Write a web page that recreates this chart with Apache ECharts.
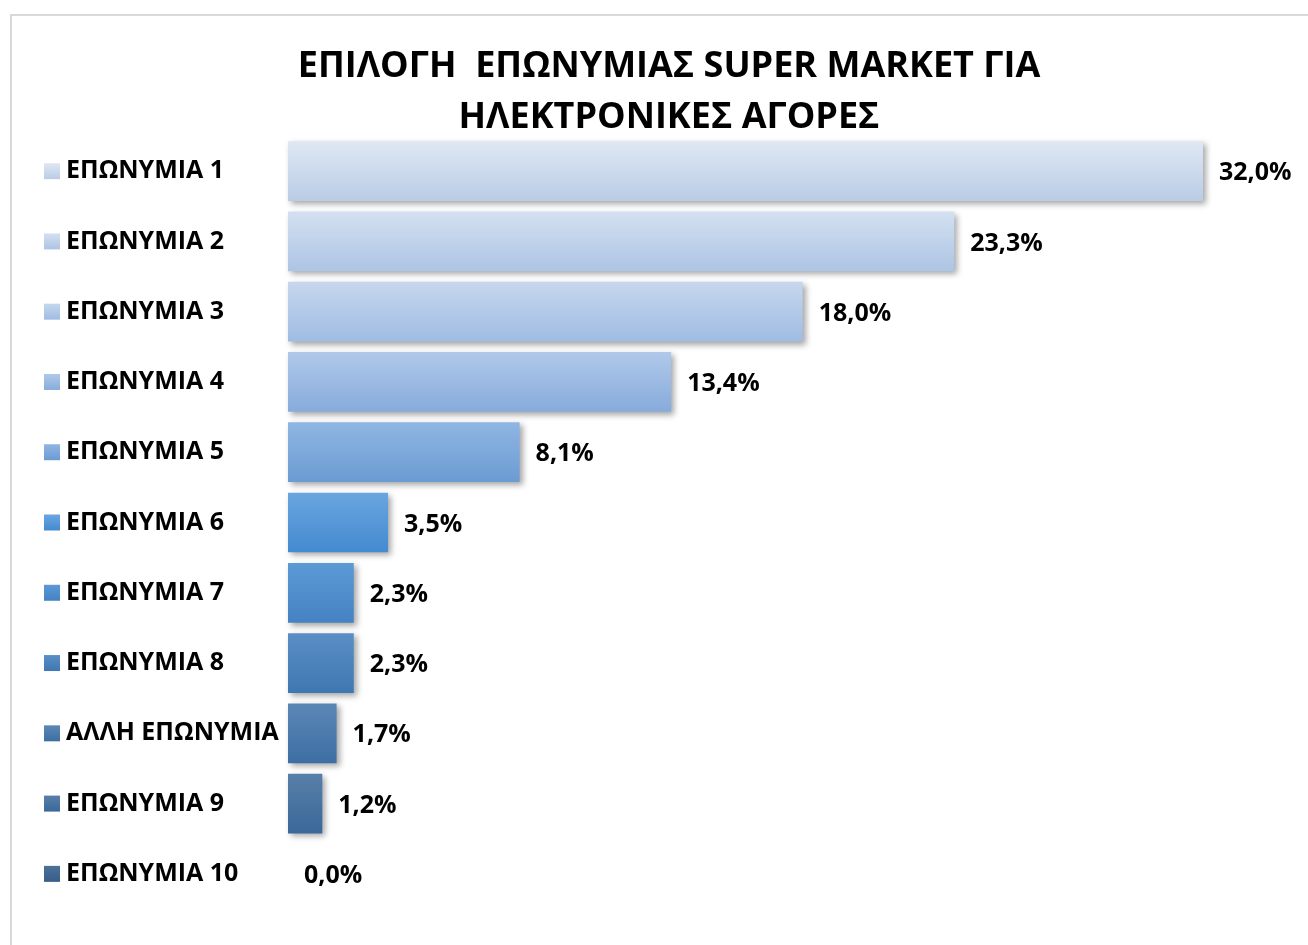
<!DOCTYPE html>
<html>
<head>
<meta charset="utf-8">
<script src="https://cdn.jsdelivr.net/npm/echarts@6/dist/echarts.min.js"></script>
<style>
	html, body { margin: 0; padding: 0; background: #fff; }
	#chart { width: 1308px; height: 945px; }
</style>
</head>
<body>
<div id="chart"></div>
<script>
	// categories, top to bottom
	var categories = ['ΕΠΩΝΥΜΙΑ 1', 'ΕΠΩΝΥΜΙΑ 2', 'ΕΠΩΝΥΜΙΑ 3', 'ΕΠΩΝΥΜΙΑ 4', 'ΕΠΩΝΥΜΙΑ 5',
		'ΕΠΩΝΥΜΙΑ 6', 'ΕΠΩΝΥΜΙΑ 7', 'ΕΠΩΝΥΜΙΑ 8', 'ΑΛΛΗ ΕΠΩΝΥΜΙΑ', 'ΕΠΩΝΥΜΙΑ 9', 'ΕΠΩΝΥΜΙΑ 10']
	var values = [32.0, 23.3, 18.0, 13.4, 8.1, 3.5, 2.3, 2.3, 1.7, 1.2, 0.0]

	// top / bottom gradient colours for each bar
	var topColors = ['#dfe8f4', '#d3e0f1', '#c6d7ee', '#b0c9ea', '#8fb6e3', '#6aa6e0', '#5c99d6', '#5a8fc6', '#5b87b6', '#587fa9', '#4d7198']
	var bottomColors = ['#b9cce5', '#adc4e4', '#a0bce3', '#87abdb', '#6b9bd3', '#448ad0', '#4482c3', '#3f77b0', '#3d6fa4', '#3a6898', '#365e8a']

	var chart = echarts.init(document.getElementById('chart'))

	var rich = {
		t: { fontSize: 25, fontWeight: 'bold', color: '#000', fontFamily: 'Open Sans', padding: [0, 0, 0, 6] }
	}
	categories.forEach(function (c, i) {
		rich['b' + i] = {
			width: 16, height: 16,
			backgroundColor: {
				type: 'linear', x: 0, y: 0, x2: 0, y2: 1,
				colorStops: [{ offset: 0, color: topColors[i] }, { offset: 1, color: bottomColors[i] }]
			}
		}
	})

	var barData = values.map(function (v, i) {
		return {
			value: v,
			itemStyle: {
				color: {
					type: 'linear', x: 0, y: 0, x2: 0, y2: 1,
					colorStops: [{ offset: 0, color: topColors[i] }, { offset: 1, color: bottomColors[i] }]
				}
			}
		}
	})

	chart.setOption({
		animation: false,
		graphic: [{
			type: 'rect',
			shape: { x: 11, y: 15, width: 1320, height: 960 },
			style: { fill: 'none', stroke: '#d9d9d9', lineWidth: 2 }
		}],
		title: {
			text: 'ΕΠΙΛΟΓΗ  ΕΠΩΝΥΜΙΑΣ SUPER MARKET ΓΙΑ\nΗΛΕΚΤΡΟΝΙΚΕΣ ΑΓΟΡΕΣ',
			left: 664,
			textAlign: 'center',
			top: 36,
			textStyle: {
				fontFamily: 'Open Sans',
				fontSize: 36,
				fontWeight: 'bold',
				color: '#000',
				lineHeight: 51
			}
		},
		grid: {
			left: 288,
			right: 105,
			top: 136,
			bottom: 36,
			containLabel: false
		},
		xAxis: {
			type: 'value',
			min: 0,
			max: 32,
			show: false
		},
		yAxis: {
			type: 'category',
			inverse: true,
			data: categories,
			axisLine: { show: false },
			axisTick: { show: false },
			axisLabel: {
				align: 'left',
				margin: 244,
				formatter: function (v, i) {
					return '{b' + i + '|}{t|' + v + '}'
				},
				rich: rich
			}
		},
		series: [{
			type: 'bar',
			data: barData,
			barCategoryGap: '15%',
			itemStyle: {
				shadowBlur: 6,
				shadowOffsetX: 3,
				shadowOffsetY: 3,
				shadowColor: 'rgba(0,0,0,0.35)'
			},
			label: {
				show: true,
				position: 'right',
				distance: 16,
				offset: [0, 2],
				fontFamily: 'Open Sans',
				fontSize: 25,
				fontWeight: 'bold',
				color: '#000',
				formatter: function (p) {
					return p.value.toFixed(1).replace('.', ',') + '%'
				}
			}
		}]
	})
</script>
</body>
</html>
